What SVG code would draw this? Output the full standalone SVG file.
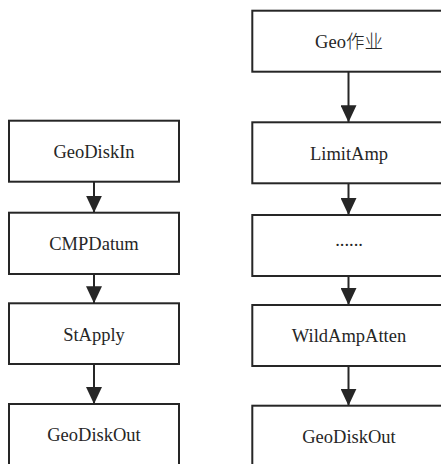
<svg xmlns="http://www.w3.org/2000/svg" width="441" height="464" viewBox="0 0 441 464">
<defs>
<style>
.box{fill:#fff;stroke:#262626;stroke-width:2}
.lbl{font-family:'Liberation Serif','Times New Roman',serif;font-size:18.5px;fill:#262626;text-anchor:middle}
.cjk{font-family:'Noto Sans CJK SC','Noto Sans CJK JP',sans-serif;font-weight:300}
.edge{stroke:#262626;stroke-width:2;fill:none;marker-end:url(#arr)}
</style>
<marker id="arr" viewBox="0 0 17 16" markerUnits="userSpaceOnUse" markerWidth="17" markerHeight="16" refX="17" refY="8" orient="auto">
<path d="M0,0 L17,8 L0,16 z" fill="#262626"/>
</marker>
</defs>
<rect width="441" height="464" fill="#fff"/>
<g id="connectors">
<line class="edge" x1="94" y1="181.7" x2="94" y2="212.7"/>
<line class="edge" x1="94" y1="274" x2="94" y2="303.3"/>
<line class="edge" x1="94" y1="364" x2="94" y2="404"/>
<line class="edge" x1="348.5" y1="71.7" x2="348.5" y2="122.3"/>
<line class="edge" x1="348.5" y1="183.3" x2="348.5" y2="215"/>
<line class="edge" x1="348.5" y1="276" x2="348.5" y2="305"/>
<line class="edge" x1="348.5" y1="366" x2="348.5" y2="405.7"/>
</g>
<g id="n_geodiskin"><rect class="box" x="9" y="120.7" width="170" height="61"/><text class="lbl" x="94" y="158">GeoDiskIn</text></g>
<g id="n_cmpdatum"><rect class="box" x="9" y="212.7" width="170" height="61.3"/><text class="lbl" x="94" y="250">CMPDatum</text></g>
<g id="n_stapply"><rect class="box" x="9" y="303.3" width="170" height="60.7"/><text class="lbl" x="94" y="340.5">StApply</text></g>
<g id="n_geodiskout_l"><rect class="box" x="9" y="404" width="170" height="62"/><text class="lbl" x="94" y="441">GeoDiskOut</text></g>
<g id="n_geojob"><rect class="box" x="252.3" y="10.7" width="194" height="61"/><text class="lbl" x="349" y="48">Geo<tspan class="cjk">作业</tspan></text></g>
<g id="n_limitamp"><rect class="box" x="252.3" y="122.3" width="194" height="61"/><text class="lbl" x="349" y="159.5">LimitAmp</text></g>
<g id="n_dots"><rect class="box" x="252.3" y="215" width="194" height="61"/><text class="lbl" x="349" y="246">......</text></g>
<g id="n_wildampatten"><rect class="box" x="252.3" y="305" width="194" height="61"/><text class="lbl" x="349" y="342">WildAmpAtten</text></g>
<g id="n_geodiskout_r"><rect class="box" x="252.3" y="405.7" width="194" height="62"/><text class="lbl" x="349" y="443">GeoDiskOut</text></g>
</svg>
